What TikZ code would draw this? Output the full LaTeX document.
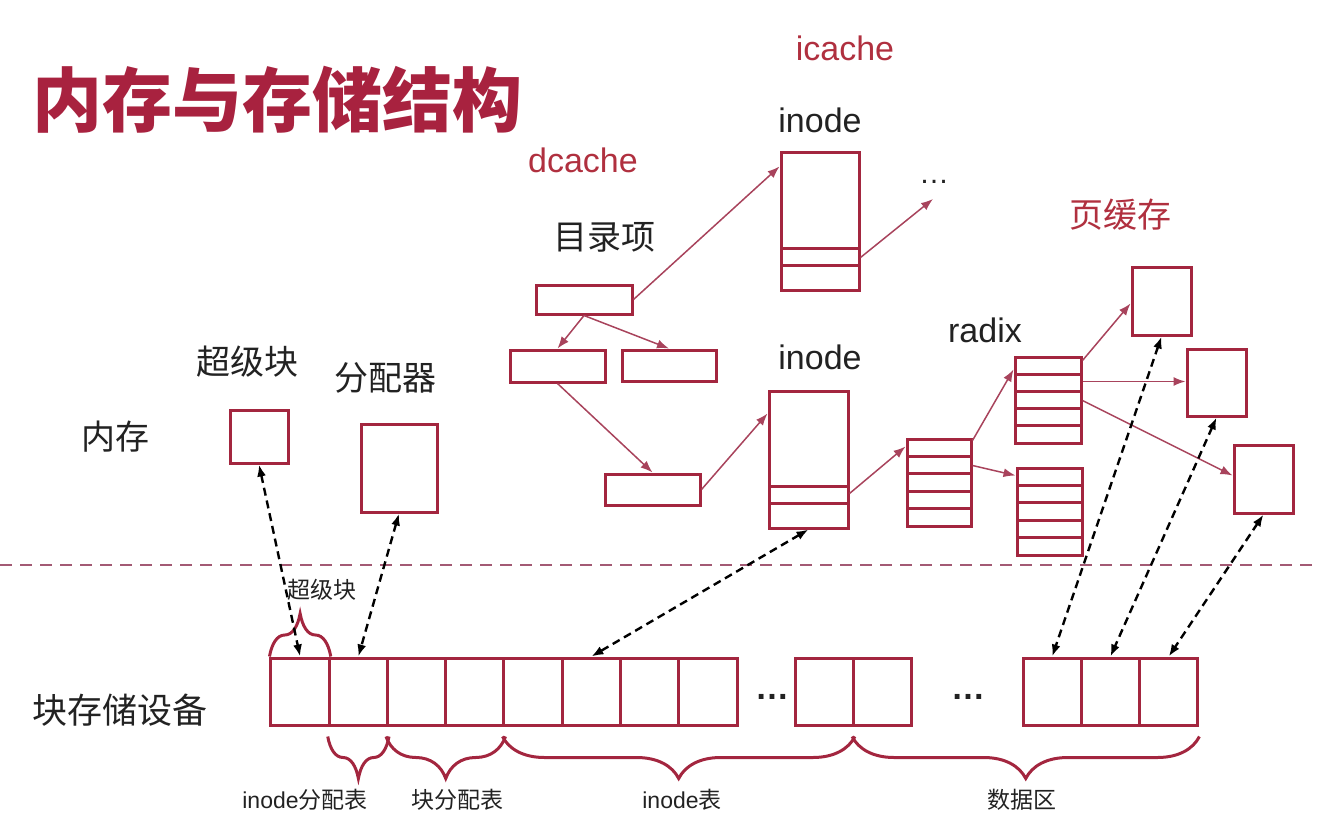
\documentclass[tikz,border=0pt]{standalone}
\usepackage{fontspec}
\setmainfont{Liberation Sans}
\newfontfamily\cjk{Noto Sans CJK SC}
\usetikzlibrary{arrows.meta,calc,decorations.pathreplacing}

\definecolor{boxred}{HTML}{A3263F}
\definecolor{titlered}{HTML}{A8223F}
\definecolor{labelred}{HTML}{B0303F}
\definecolor{linkred}{HTML}{A8435C}
\definecolor{rulerose}{HTML}{A35A74}
\definecolor{ink}{HTML}{222222}

\tikzset{
  box/.style={draw=boxred, line width=3pt, fill=white, inner sep=0pt},
  cell/.style={box, minimum width=58.3pt, minimum height=67pt},
  rows/.style={box, path picture={
      \foreach \f in {#1}
        \draw[boxred, line width=3pt]
          ($(path picture bounding box.north west)!\f!(path picture bounding box.south west)$) --
          ($(path picture bounding box.north east)!\f!(path picture bounding box.south east)$);}},
  link/.style={draw=linkred, line width=1.5pt, ->},
  dlink/.style={draw=black, line width=2.4pt, dash pattern=on 8pt off 5pt, <->},
  big/.style={text=ink, font=\fontsize{34}{40}\selectfont},
  small/.style={text=ink, font=\fontsize{23}{27}\selectfont},
  brace/.style={draw=boxred, line width=3pt, decorate, decoration={brace, amplitude=#1}},
}

\begin{document}
\begin{tikzpicture}[x=1pt, y=-1pt, >={Latex[length=12pt,width=9pt]}]
    \useasboundingbox (0,0) rectangle (1317,822);

    % Titles
    \node[text=titlered, font=\cjk\bfseries\fontsize{70}{80}\selectfont] (title) at (277,100) {内存与存储结构};
    \node[big, text=labelred] (icache) at (845,48) {icache};
    \node[big, text=labelred] (dcache) at (583,160) {dcache};
    \node[big, text=labelred, font=\cjk\fontsize{34}{40}\selectfont] (pcache) at (1120,215) {页缓存};

    % Labels
    \node[big] (itoplbl) at (820,120) {inode};
    \node[big] (ibotlbl) at (820,357) {inode};
    \node[big, font=\cjk\fontsize{34}{40}\selectfont] (dentlbl) at (604,237) {目录项};
    \node[big] (radixlbl) at (985,330) {radix};
    \node[big, font=\cjk\fontsize{34}{40}\selectfont] (sblbl) at (247,362) {超级块};
    \node[big, font=\cjk\fontsize{34}{40}\selectfont] (alloclbl) at (385,378) {分配器};
    \node[big, font=\cjk\fontsize{34}{40}\selectfont] (memlbl) at (115,437) {内存};
    \node[big, font=\cjk\fontsize{35}{40}\selectfont] (disklbl) at (120,710) {块存储设备};

    % Memory
    \node[box, minimum width=58pt, minimum height=53pt] (sb) at (259,436.5) {};
    \node[box, minimum width=76pt, minimum height=88pt] (alloc) at (399,468) {};
    \node[box, minimum width=96pt, minimum height=29pt] (droot) at (584,299.5) {};
    \node[box, minimum width=95pt, minimum height=32pt] (dleft) at (557.5,366) {};
    \node[box, minimum width=94pt, minimum height=31pt] (dright) at (669,365.5) {};
    \node[box, minimum width=95pt, minimum height=31pt] (dlow) at (652.5,489.5) {};
    \node[rows={0.70,0.82}, minimum width=78pt, minimum height=138pt] (itop) at (820,221) {};
    \node[rows={0.70,0.82}, minimum width=79pt, minimum height=137pt] (ibot) at (808.5,459.5) {};
    \node[rows={0.2,0.4,0.6,0.8}, minimum width=64pt, minimum height=87pt] (r1) at (939,482.5) {};
    \node[rows={0.2,0.4,0.6,0.8}, minimum width=66pt, minimum height=86pt] (r2) at (1048,400) {};
    \node[rows={0.2,0.4,0.6,0.8}, minimum width=65pt, minimum height=87pt] (r3) at (1049.5,511.5) {};
    \node[box, minimum width=59pt, minimum height=68pt] (p1) at (1161.5,301) {};
    \node[box, minimum width=59pt, minimum height=67pt] (p2) at (1216.5,382.5) {};
    \node[box, minimum width=59pt, minimum height=68pt] (p3) at (1263.5,479) {};
    \coordinate (more) at (933,199);
    \node[big, font=\fontsize{30}{36}\selectfont] (etc) at (934,182) {…};

    \draw[link] (droot.east) -- ([yshift=-16pt]itop.north west);
    \draw[link] (droot.south) -- (dleft.north);
    \draw[link] (droot.south) -- (dright.north);
    \draw[link] (dleft.south) -- (dlow.north);
    \draw[link] (dlow.east) -- ([yshift=-24pt]ibot.north west);
    \draw[link] ([yshift=34pt]itop.south east) -- (more);
    \draw[link] ([yshift=36pt]ibot.south east) -- ([yshift=-9pt]r1.north west);
    \draw[link] ([yshift=-3pt]r1.north east) -- ([yshift=-14pt]r2.north west);
    \draw[link] ([yshift=-28pt]r1.north east) -- ([yshift=-9pt]r3.north west);
    \draw[link] ([yshift=-5pt]r2.north east) -- ([yshift=-38pt]p1.north west);
    \draw[link] ([yshift=-26pt]r2.north east) -- ([yshift=-34pt]p2.north west);
    \draw[link] ([yshift=-45pt]r2.north east) -- ([yshift=-32pt]p3.north west);

    % Separator
    \draw[rulerose, line width=2.5pt, dash pattern=on 12pt off 8pt] (0,565) -- (1317,565);

    % Block device
    \foreach \i in {1,...,8}
        \node[cell] (d\i) at ({271+58.25*(\i-0.5)},691.5) {};
    \foreach \i in {9,10}
        \node[cell] (d\i) at ({795+58.5*(\i-8.5)},691.5) {};
    \foreach \i in {11,12,13}
        \node[cell] (d\i) at ({1023+58.3*(\i-10.5)},691.5) {};
    \node[big, font=\bfseries\fontsize{34}{40}\selectfont] (gap1) at (772,697) {…};
    \node[big, font=\bfseries\fontsize{34}{40}\selectfont] (gap2) at (968,697) {…};

    % Braces
    \draw[brace=43pt] (d1.north west) -- (d1.north east);
    \draw[brace=42pt] ([yshift=-10pt]d2.south east) -- ([yshift=-10pt]d2.south west);
    \draw[brace=42pt] ([yshift=-10pt]d4.south east) -- ([yshift=-10pt]d3.south west);
    \draw[brace=42pt] ([yshift=-10pt]d9.south east) -- ([yshift=-10pt]d5.south west);
    \draw[brace=42pt] ([yshift=-10pt]d13.south east) -- ([yshift=-10pt]d10.south west);
    \node[small, font=\cjk\fontsize{23}{27}\selectfont] (sbsmall) at (322,590) {超级块};
    \node[small] (imap) at (305,800) {inode{\cjk 分配表}};
    \node[small, font=\cjk\fontsize{23}{27}\selectfont] (bmap) at (457,800) {块分配表};
    \node[small] (itab) at (682,800) {inode{\cjk 表}};
    \node[small, font=\cjk\fontsize{23}{27}\selectfont] (data) at (1022,800) {数据区};

    % Mappings
    \draw[dlink] (sb.south) -- (d1.north);
    \draw[dlink] (alloc.south) -- (d2.north);
    \draw[dlink] (ibot.south) -- (d6.north);
    \draw[dlink] (p1.south) -- (d11.north);
    \draw[dlink] (p2.south) -- (d12.north);
    \draw[dlink] (p3.south) -- (d13.north);

\end{tikzpicture}
\end{document}
